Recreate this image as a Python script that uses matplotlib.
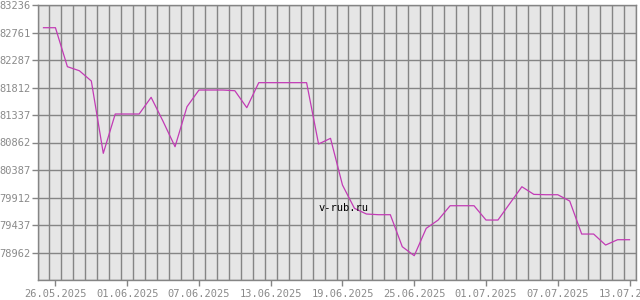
import matplotlib
matplotlib.use('Agg')
import matplotlib.pyplot as plt
import matplotlib.dates as mdates
import numpy as np
import pandas as pd

# daily rate, 25.05.2025 .. 13.07.2025
start_date = '2025-05-25'
values = [82844, 82844, 82171, 82101, 81924, 80675, 81354, 81354, 81354, 81642,
          81227, 80789, 81480, 81768, 81768, 81768, 81756, 81463, 81895, 81895,
          81895, 81895, 81895, 80836, 80934, 80127, 79725, 79627, 79615, 79615,
          79062, 78907, 79379, 79523, 79770, 79770, 79770, 79523, 79523, 79811,
          80098, 79966, 79960, 79960, 79851, 79281, 79281, 79091, 79183, 79183]
y_min, y_max = 78487.4, 83236.3
watermark = 'v-rub.ru'

dates = pd.date_range(start_date, periods=len(values), freq='D')

grid_col = '#858585'
text_col = '#8a8a8a'

fig = plt.figure(figsize=(6.4, 3.0), dpi=100)
ax = fig.add_axes([37.5 / 640, 1 - 280 / 300, 598 / 640, 275 / 300])
ax.set_facecolor('#e6e6e6')

ax.plot(dates, values, color='#c23bb5', lw=0.9, zorder=3)

half = pd.Timedelta(hours=12)
ax.set_xlim(dates[0] - half, dates[-1] + half)
ax.set_ylim(y_min, y_max)

# day gridlines sit between the date ticks
day_edges = pd.date_range(dates[0] - half, dates[-1] + half, freq='D')
for d in day_edges:
    ax.axvline(d, color=grid_col, lw=1.0, zorder=1)
yt = np.linspace(y_min, y_max, 11)
for y in yt:
    ax.axhline(y, color=grid_col, lw=1.0, zorder=1)

ax.set_yticks(yt[1:])
ax.set_yticklabels(['%.0f' % v for v in yt[1:]])
ax.set_xticks(pd.date_range('2025-05-26', dates[-1], freq='6D'))
ax.xaxis.set_major_formatter(mdates.DateFormatter('%d.%m.%Y'))

ax.tick_params(colors=grid_col, labelcolor=text_col, length=4, width=1.0,
               labelsize=7.5)
ax.tick_params(axis='y', pad=0.8)
ax.tick_params(axis='x', pad=2.5)
for lbl in ax.get_xticklabels() + ax.get_yticklabels():
    lbl.set_family('DejaVu Sans Mono')
for s in ax.spines.values():
    s.set_color(grid_col)
    s.set_linewidth(1.0)

ax.text(0.512, 0.263, watermark, transform=ax.transAxes, ha='center', va='center',
        fontsize=7.5, family='DejaVu Sans Mono', color='black', zorder=4)

fig.savefig('out.png', dpi=100)
